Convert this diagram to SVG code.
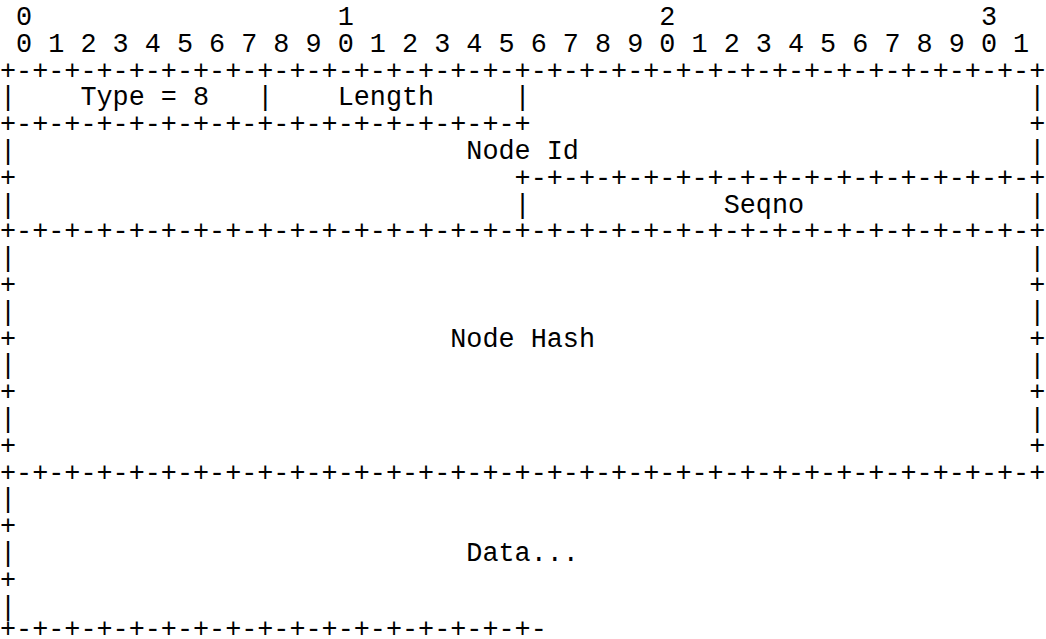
<svg xmlns="http://www.w3.org/2000/svg" width="1046" height="639" viewBox="0 0 1046 639" xml:space="preserve">
<style>
  text { font-family: "Liberation Mono", "DejaVu Sans Mono", monospace; font-size: 26.8px; fill: #000; white-space: pre; }
</style>
<rect x="0" y="0" width="1046" height="639" fill="#fff"/>
<g id="diagram">
<text xml:space="preserve" x="0" y="25"> 0                   1                   2                   3</text>
<text xml:space="preserve" x="0" y="51.8"> 0 1 2 3 4 5 6 7 8 9 0 1 2 3 4 5 6 7 8 9 0 1 2 3 4 5 6 7 8 9 0 1</text>
<text xml:space="preserve" x="0" y="78.6">+-+-+-+-+-+-+-+-+-+-+-+-+-+-+-+-+-+-+-+-+-+-+-+-+-+-+-+-+-+-+-+-+</text>
<text xml:space="preserve" x="0" y="105.4">|    Type = 8   |    Length     |                               |</text>
<text xml:space="preserve" x="0" y="132.2">+-+-+-+-+-+-+-+-+-+-+-+-+-+-+-+-+                               +</text>
<text xml:space="preserve" x="0" y="159">|                            Node Id                            |</text>
<text xml:space="preserve" x="0" y="185.8">+                               +-+-+-+-+-+-+-+-+-+-+-+-+-+-+-+-+</text>
<text xml:space="preserve" x="0" y="212.6">|                               |            Seqno              |</text>
<text xml:space="preserve" x="0" y="239.4">+-+-+-+-+-+-+-+-+-+-+-+-+-+-+-+-+-+-+-+-+-+-+-+-+-+-+-+-+-+-+-+-+</text>
<text xml:space="preserve" x="0" y="266.2">|                                                               |</text>
<text xml:space="preserve" x="0" y="293">+                                                               +</text>
<text xml:space="preserve" x="0" y="319.8">|                                                               |</text>
<text xml:space="preserve" x="0" y="346.6">+                           Node Hash                           +</text>
<text xml:space="preserve" x="0" y="373.4">|                                                               |</text>
<text xml:space="preserve" x="0" y="400.2">+                                                               +</text>
<text xml:space="preserve" x="0" y="427">|                                                               |</text>
<text xml:space="preserve" x="0" y="453.8">+                                                               +</text>
<text xml:space="preserve" x="0" y="480.6">+-+-+-+-+-+-+-+-+-+-+-+-+-+-+-+-+-+-+-+-+-+-+-+-+-+-+-+-+-+-+-+-+</text>
<text xml:space="preserve" x="0" y="507.4">|</text>
<text xml:space="preserve" x="0" y="534.2">+</text>
<text xml:space="preserve" x="0" y="561">|                            Data...</text>
<text xml:space="preserve" x="0" y="587.8">+</text>
<text xml:space="preserve" x="0" y="614.6">|</text>
<text xml:space="preserve" x="0" y="637">+-+-+-+-+-+-+-+-+-+-+-+-+-+-+-+-+-</text>
</g>
</svg>
